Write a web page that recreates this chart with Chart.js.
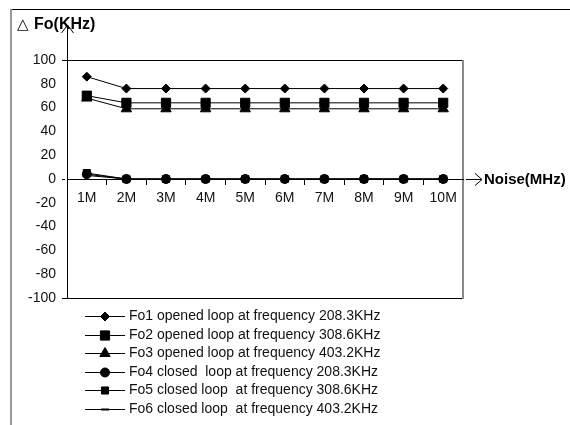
<!DOCTYPE html>
<html>
<head>
<meta charset="utf-8">
<script src="https://cdn.jsdelivr.net/npm/chart.js@4.4.0/dist/chart.umd.min.js"></script>
<style>
  html, body { margin: 0; padding: 0; background: #fff; }
  #wrap { position: relative; width: 570px; height: 425px; }
</style>
</head>
<body>
<div id="wrap"><canvas id="foChart" width="570" height="425"></canvas></div>
<script>
// Chart data
const categories = ["1M", "2M", "3M", "4M", "5M", "6M", "7M", "8M", "9M", "10M"];
const fo1 = [86, 76, 76, 76, 76, 76, 76, 76, 76, 76];
const fo2 = [70, 64, 64, 64, 64, 64, 64, 64, 64, 64];
const fo3 = [68, 59, 59, 59, 59, 59, 59, 59, 59, 59];
const fo4 = [4, 0, 0, 0, 0, 0, 0, 0, 0, 0];
const fo5 = [5, 0, 0, 0, 0, 0, 0, 0, 0, 0];
const fo6 = [3, 0, 0, 0, 0, 0, 0, 0, 0, 0];
const seriesLabels = [
  "Fo1 opened loop at frequency 208.3KHz",
  "Fo2 opened loop at frequency 308.6KHz",
  "Fo3 opened loop at frequency 403.2KHz",
  "Fo4 closed  loop at frequency 208.3KHz",
  "Fo5 closed loop  at frequency 308.6KHz",
  "Fo6 closed loop  at frequency 403.2KHz"
];
const yMin = -100, yMax = 100, yStep = 20;
const yTitle = "Fo(KHz)";
const xTitle = "Noise(MHz)";

const FONT = "'Liberation Sans', Arial, sans-serif";

function series(label, data, style, radius, bw) {
  return {
    label: label,
    data: data,
    borderColor: "#000",
    borderWidth: 1,
    backgroundColor: "#000",
    pointStyle: style,
    pointRadius: radius,
    pointBackgroundColor: "#000",
    pointBorderColor: "#000",
    pointBorderWidth: bw || 1,
    tension: 0,
    fill: false
  };
}

// Axes arrows, frame, titles and the legend
const decor = {
  id: "decor",
  afterDraw(chart) {
    const ctx = chart.ctx;
    const area = chart.chartArea;
    const zeroY = chart.scales.y.getPixelForValue(0);
    ctx.save();

    // outer frame
    ctx.strokeStyle = "#000";
    ctx.lineWidth = 1;
    ctx.beginPath();
    ctx.moveTo(10, 9.5); ctx.lineTo(570, 9.5);
    ctx.stroke();
    ctx.strokeStyle = "#999";
    ctx.lineWidth = 2;
    ctx.beginPath();
    ctx.moveTo(11, 9); ctx.lineTo(11, 425);
    ctx.stroke();

    // right border of plot
    ctx.strokeStyle = "#888";
    ctx.lineWidth = 2;
    ctx.beginPath();
    ctx.moveTo(area.right, area.top); ctx.lineTo(area.right, area.bottom + 1);
    ctx.stroke();

    // y axis arrow
    const ax = Math.round(area.left) + 0.5;
    ctx.strokeStyle = "#000";
    ctx.lineWidth = 1;
    ctx.beginPath();
    ctx.moveTo(ax, area.top); ctx.lineTo(ax, 25);
    ctx.moveTo(ax - 6, 33); ctx.lineTo(ax, 25); ctx.lineTo(ax + 6, 33);
    ctx.stroke();

    // x axis extension + arrow
    const zy = Math.round(zeroY) + 0.5;
    ctx.setLineDash([3, 3]);
    ctx.beginPath();
    ctx.moveTo(area.right - 20, zy); ctx.lineTo(466, zy);
    ctx.moveTo(area.left - 5, zy); ctx.lineTo(area.left, zy);
    ctx.stroke();
    ctx.setLineDash([]);
    ctx.beginPath();
    ctx.moveTo(466, zy); ctx.lineTo(482, zy);
    ctx.moveTo(475, zy - 6); ctx.lineTo(482, zy); ctx.lineTo(475, zy + 6);
    ctx.stroke();

    // titles
    ctx.fillStyle = "#000";
    ctx.textBaseline = "middle";
    ctx.font = "15px 'DejaVu Sans'";
    ctx.fillText("\u25B3", 17, 25);
    ctx.font = "bold 16px " + FONT;
    ctx.fillText(yTitle, 34, 25);
    ctx.font = "bold 15px " + FONT;
    ctx.fillText(xTitle, 484, zy);

    // legend
    ctx.font = "14px " + FONT;
    chart.data.datasets.forEach((ds, i) => {
      const y = Math.round(316 + i * 18.5) + 0.5;
      ctx.strokeStyle = "#000";
      ctx.lineWidth = 1;
      ctx.beginPath();
      ctx.moveTo(85, y); ctx.lineTo(125, y);
      ctx.stroke();
      ctx.fillStyle = "#000";
      ctx.lineWidth = ds.pointBorderWidth;
      Chart.helpers.drawPoint(ctx, {
        pointStyle: ds.pointStyle,
        radius: ds.pointRadius,
        rotation: 0,
        borderWidth: ds.pointBorderWidth
      }, 105, y);
      ctx.fillStyle = "#111";
      ctx.fillText(ds.label, 129, y);
    });
    ctx.restore();
  }
};

const ctx = document.getElementById("foChart").getContext("2d");
new Chart(ctx, {
  type: "line",
  data: {
    labels: categories,
    datasets: [
      series(seriesLabels[0], fo1, "rectRot", 4.5),
      series(seriesLabels[1], fo2, "rect", 6.5),
      series(seriesLabels[2], fo3, "triangle", 6),
      series(seriesLabels[3], fo4, "circle", 4.5),
      series(seriesLabels[4], fo5, "rect", 5),
      series(seriesLabels[5], fo6, "line", 4, 2)
    ]
  },
  options: {
    responsive: false,
    animation: false,
    devicePixelRatio: 1,
    layout: { padding: { top: 60, right: 107, bottom: 127, left: 0 } },
    plugins: {
      legend: { display: false },
      tooltip: { enabled: false }
    },
    scales: {
      x: {
        type: "category",
        offset: true,
        position: { y: 0 },
        grid: {
          offset: true,
          drawOnChartArea: false,
          drawTicks: true,
          tickLength: 5,
          color: "#000"
        },
        border: { display: true, color: "#000", width: 1, dash: [3, 3] },
        ticks: {
          color: "#111",
          font: { family: FONT, size: 14 },
          padding: 6,
          maxRotation: 0,
          autoSkip: false
        }
      },
      y: {
        min: yMin,
        max: yMax,
        afterFit: s => { s.width = 67; },
        grid: {
          drawTicks: true,
          tickLength: 5,
          color: c => (c.tick && (c.tick.value === yMax || c.tick.value === yMin)) ? "#000" : "rgba(0,0,0,0)",
          tickColor: c => (c.tick && (c.tick.value === yMax || c.tick.value === yMin)) ? "#000" : "rgba(0,0,0,0)"
        },
        border: { display: true, color: "#000", width: 1 },
        ticks: {
          stepSize: yStep,
          color: "#111",
          padding: 6,
          font: { family: FONT, size: 14 }
        }
      }
    }
  },
  plugins: [decor]
});
</script>
</body>
</html>
